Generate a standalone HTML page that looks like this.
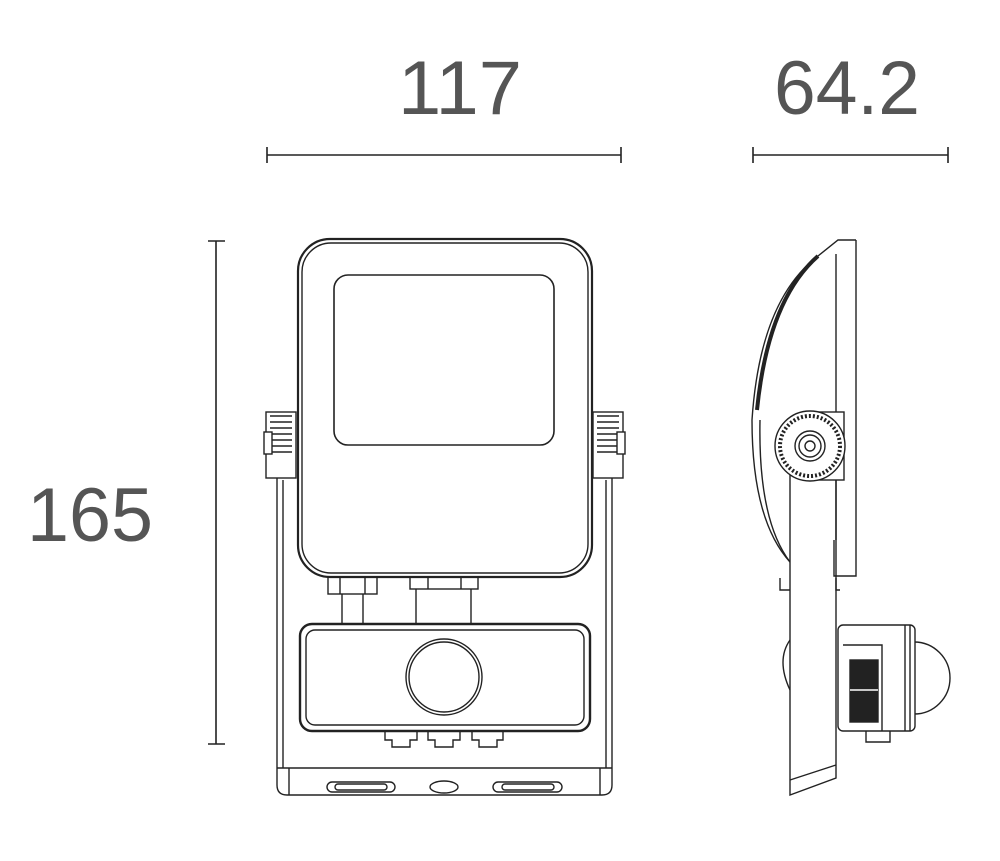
<!DOCTYPE html>
<html><head><meta charset="utf-8"><style>
html,body{margin:0;padding:0;background:#fff;}
svg{display:block}
text{font-family:"Liberation Sans",sans-serif;font-weight:300;fill:#555;}
</style></head><body>
<svg width="1000" height="861" viewBox="0 0 1000 861" xmlns="http://www.w3.org/2000/svg">
<g stroke="#222" fill="none" stroke-width="1.6">
<line x1="267" y1="155" x2="621" y2="155"/><line x1="267" y1="147" x2="267" y2="163"/><line x1="621" y1="147" x2="621" y2="163"/>
<line x1="753" y1="155" x2="948" y2="155"/><line x1="753" y1="147" x2="753" y2="163"/><line x1="948" y1="147" x2="948" y2="163"/>
<line x1="216" y1="241" x2="216" y2="744"/><line x1="208" y1="241" x2="225" y2="241"/><line x1="208" y1="744" x2="225" y2="744"/>
</g>
<text x="460" y="114" font-size="76" text-anchor="middle" textLength="124" lengthAdjust="spacingAndGlyphs">117</text>
<text x="847" y="114" font-size="76" text-anchor="middle" textLength="146" lengthAdjust="spacingAndGlyphs">64.2</text>
<text x="90" y="541" font-size="76" text-anchor="middle" textLength="126" lengthAdjust="spacingAndGlyphs">165</text>

<g stroke="#222" fill="none" stroke-width="1.4">
<path d="M277 470 V785 Q277 795 287 795 H602 Q612 795 612 785 V470"/>
<path d="M283 480 V768 M606 480 V768"/>
<path d="M277 768 H612 M289 768 V795 M600 768 V795"/>
<rect x="327" y="782" width="68" height="10" rx="5"/><rect x="335" y="784" width="52" height="6" rx="3"/>
<rect x="493" y="782" width="69" height="10" rx="5"/><rect x="502" y="784" width="52" height="6" rx="3"/>
<ellipse cx="444" cy="787" rx="14" ry="6"/>
<rect x="298" y="239" width="294" height="338" rx="32" stroke-width="2.2"/>
<rect x="302" y="243" width="286" height="330" rx="29"/>
<rect x="334" y="275" width="220" height="170" rx="14" stroke-width="1.6"/>
<rect x="266" y="412" width="30" height="66" fill="#fff"/>
<path d="M270 416 H292 M270 422 H292 M270 428 H292 M270 434 H292 M270 440 H292 M270 446 H292 M270 452 H292" stroke-width="1.6"/>
<rect x="264" y="432" width="8" height="22" fill="#fff"/>
<rect x="593" y="412" width="30" height="66" fill="#fff"/>
<path d="M597 416 H619 M597 422 H619 M597 428 H619 M597 434 H619 M597 440 H619 M597 446 H619 M597 452 H619" stroke-width="1.6"/>
<rect x="617" y="432" width="8" height="22" fill="#fff"/>
<rect x="328" y="577" width="49" height="17"/><line x1="340" y1="577" x2="340" y2="594"/><line x1="365" y1="577" x2="365" y2="594"/>
<rect x="410" y="577" width="68" height="12"/><line x1="428" y1="577" x2="428" y2="589"/><line x1="461" y1="577" x2="461" y2="589"/>
<path d="M342 594 V624 M363 594 V624 M416 589 V624 M471 589 V624"/>
<rect x="300" y="624" width="290" height="107" rx="12" stroke-width="2.4"/>
<rect x="306" y="630" width="278" height="95" rx="9"/>
<circle cx="444" cy="677" r="38"/><circle cx="444" cy="677" r="35"/>
<path d="M385 731 V740 H392 V747 H410 V740 H417 V731"/>
<path d="M428 731 V740 H435 V747 H453 V740 H460 V731"/>
<path d="M472 731 V740 H479 V747 H497 V740 H503 V731"/>
</g>

<g stroke="#222" fill="none" stroke-width="1.4">
<path d="M856 240 V576 H834 V540"/>
<path d="M856 240 H838 L818 256"/>
<path d="M836 254 V540"/>
<path d="M818 256 Q760 300 752 420 Q752 520 790 562"/>
<path d="M818 256 Q768 300 757 410" stroke-width="4"/>
<path d="M760 420 Q758 520 790 562"/>
<path d="M790 472 V795 L836 778 V470"/>
<path d="M790 780 L836 765"/>
<path d="M780 578 V590 H790 M836 578 V590 H840"/>
<path d="M790 640 Q776 660 790 690"/>
<rect x="812" y="412" width="32" height="68" fill="#fff"/>
<circle cx="810" cy="446" r="35" fill="#fff"/>
<circle cx="810" cy="446" r="30" stroke-dasharray="2 2" stroke-width="4"/>
<circle cx="810" cy="446" r="15" fill="#fff"/>
<circle cx="810" cy="446" r="11"/><circle cx="810" cy="446" r="5"/>
<path d="M914 642 A36 36 0 0 1 914 714"/>
<rect x="838" y="625" width="77" height="106" rx="5" fill="#fff"/>
<line x1="905" y1="625" x2="905" y2="731"/><line x1="910" y1="625" x2="910" y2="731"/>
<path d="M843 645 H882 V731"/>
<rect x="850" y="660" width="28" height="62" fill="#222"/>
<line x1="850" y1="690" x2="878" y2="690" stroke="#fff"/>
<path d="M866 731 V742 H890 V731"/>
</g>
</svg>
</body></html>
